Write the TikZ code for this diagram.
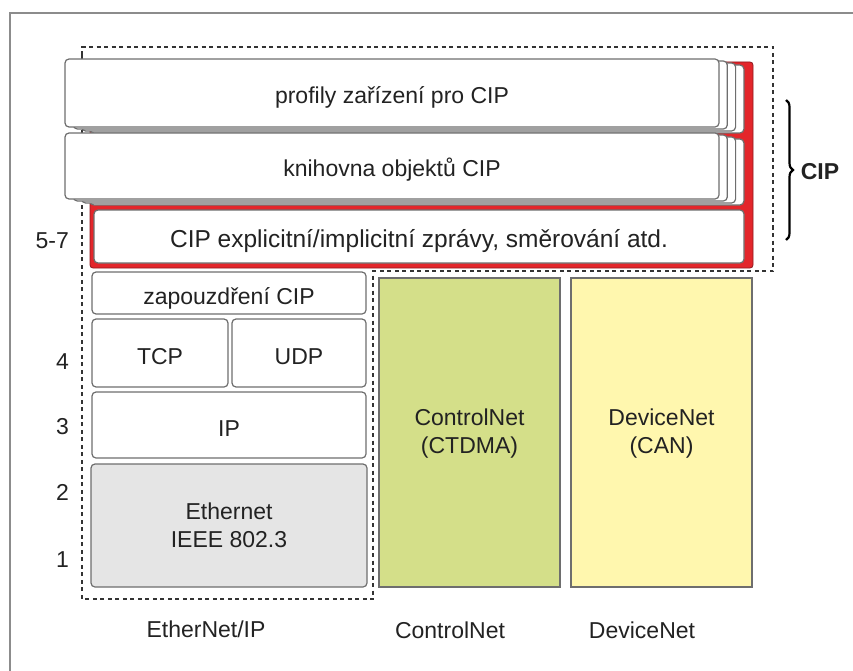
\documentclass[tikz,border=0pt]{standalone}
\usepackage{fontspec}
\setmainfont{Liberation Sans}
\usetikzlibrary{decorations.pathreplacing}
\definecolor{txt}{HTML}{222222}
\definecolor{boxgray}{HTML}{6E6E6E}
\definecolor{framegray}{HTML}{8C8C8C}
\definecolor{dotgray}{HTML}{333333}
\definecolor{cipred}{HTML}{E3262B}
\definecolor{darkred}{HTML}{8E1A1E}
\definecolor{ethgray}{HTML}{E5E5E5}
\definecolor{cngreen}{HTML}{D4DF89}
\definecolor{dnyellow}{HTML}{FFF7AE}
\begin{document}
\begin{tikzpicture}[x=1pt,y=-1pt,
  font=\fontsize{23}{28}\selectfont, text=txt,
  box/.style={draw=boxgray, line width=1.2pt, rounded corners=4pt, fill=white, inner sep=0pt, align=center},
  one/.style={text height=22pt, text depth=0pt},
  sqbox/.style={draw=boxgray, line width=1.3pt, inner sep=0pt, align=center},
  dotline/.style={draw=dotgray, line width=2.6pt, dash pattern=on 4pt off 3.5pt},
  lbl/.style={inner sep=0pt, anchor=east},
  bot/.style={inner sep=0pt}]
\useasboundingbox (0,0) rectangle (853,671);
\draw[framegray, line width=1.5pt] (10,671) -- (10,13) -- (853,13);
% dotted outline
\draw[dotline] (82,55) -- (82,47) -- (773,47) -- (773,271) -- (373,271) -- (373,599) -- (82,599) -- cycle;
% red CIP band
\node[draw=darkred, fill=cipred, rounded corners=3pt, line width=0.8pt, minimum width=663pt, minimum height=206pt, inner sep=0pt] (red) at (421.5,165) {};
% profily with copies
\foreach \k in {3,2,1}
  \node[box, minimum width=654pt, minimum height=68pt] (pc\k) at ({392+8.3*\k},{93+2*\k}) {};
\node[box, one, minimum width=654pt, minimum height=68pt] (prof) at (392,93) {profily zařízení pro CIP};
% knihovna with copies
\foreach \k in {3,2,1}
  \node[box, minimum width=654pt, minimum height=66pt] (kc\k) at ({392+8.3*\k},{166+2*\k}) {};
\node[box, one, minimum width=654pt, minimum height=66pt] (kni) at (392,166) {knihovna objektů CIP};
% explicit
\node[box, one, minimum width=650pt, minimum height=53pt, font=\fontsize{24.5}{28}\selectfont] (expl) at (419,236.5) {CIP explicitní/implicitní zprávy, směrování atd.};
% EtherNet/IP stack
\node[box, one, minimum width=274pt, minimum height=42pt] (zap) at (229,293) {zapouzdření CIP};
\node[box, one, minimum width=136pt, minimum height=68pt] (tcp) at (160,353) {TCP};
\node[box, one, minimum width=134pt, minimum height=68pt] (udp) at (299,353) {UDP};
\node[box, one, minimum width=274pt, minimum height=66pt] (ip) at (229,425) {IP};
\node[box, fill=ethgray, minimum width=276pt, minimum height=123pt] (eth) at (229,525.5) {Ethernet\\IEEE 802.3};
% ControlNet, DeviceNet
\node[sqbox, fill=cngreen, minimum width=181pt, minimum height=309pt, text depth=2pt] (cn) at (469.5,432.5) {ControlNet\\(CTDMA)};
\node[sqbox, fill=dnyellow, minimum width=181pt, minimum height=309pt, text depth=2pt] (dn) at (661.5,432.5) {DeviceNet\\(CAN)};
% layer numbers
\node[lbl] (l57) at (69,241) {5-7};
\node[lbl] (l4) at (69,362) {4};
\node[lbl] (l3) at (69,427) {3};
\node[lbl] (l2) at (69,492) {2};
\node[lbl] (l1) at (69,560) {1};
% bottom labels
\node[bot] (bEIP) at (206,629) {EtherNet/IP};
\node[bot] (bCN) at (450,630) {ControlNet};
\node[bot] (bDN) at (642,630) {DeviceNet};
% brace
\coordinate (bt) at (786,100);
\coordinate (bb) at (786,240);
\draw[line width=2.2pt, decorate, decoration={brace, amplitude=7pt}] (bt) -- (bb);
\node[inner sep=0pt, font=\fontsize{23}{28}\selectfont\bfseries] (cip) at (820,172) {CIP};
\end{tikzpicture}
\end{document}
